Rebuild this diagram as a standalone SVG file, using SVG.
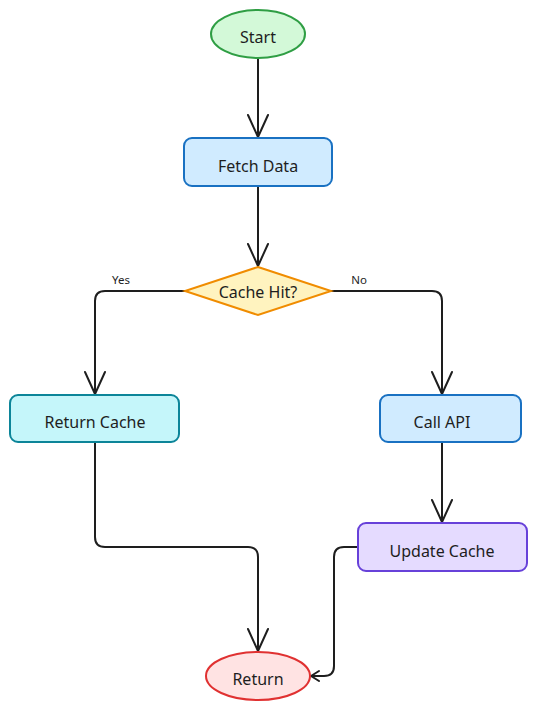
<svg xmlns="http://www.w3.org/2000/svg" width="537" height="709" viewBox="0 0 537 709">
<defs>
<style>
.lbl{font-family:"Noto Sans","Open Sans",sans-serif;font-size:16px;fill:#1e1e1e;text-anchor:middle;dominant-baseline:central}
.el{font-family:"Noto Sans","Open Sans",sans-serif;font-size:11.5px;fill:#1e1e1e;text-anchor:middle}
.n{stroke-width:2}
.c{fill:none;stroke:#1e1e1e;stroke-width:2;stroke-linecap:round;stroke-linejoin:round}
</style>
</defs>
<rect width="537" height="709" fill="#ffffff"/>
<g id="connectors">
<path class="c" d="M258,58 V137 M248,115 L258,137 L268,115"/>
<path class="c" d="M258,186 V266 M248,244 L258,266 L268,244"/>
<path class="c" d="M185,291 H105 Q95,291 95,301 V394 M85,372 L95,394 L105,372"/>
<path class="c" d="M331,291 H432 Q442,291 442,301 V394 M432,372 L442,394 L452,372"/>
<path class="c" d="M95,442 V537 Q95,547 105,547 H248 Q258,547 258,557 V651 M248,629 L258,651 L268,629"/>
<path class="c" d="M442,442 V522 M432,500 L442,522 L452,500"/>
<path class="c" d="M358,547 H344 Q334,547 334,557 V666 Q334,676 324,676 H311 M319,671 L311,676 L319,681"/>
<text class="el" x="121" y="284">Yes</text>
<text class="el" x="359" y="284">No</text>
</g>
<g id="start">
<ellipse class="n" cx="258" cy="34" rx="47" ry="24" fill="#d3f9d8" stroke="#2f9e44"/>
<text class="lbl" x="258" y="37">Start</text>
</g>
<g id="fetch">
<rect class="n" x="184" y="138" width="148" height="48" rx="8" fill="#d0ebff" stroke="#1971c2"/>
<text class="lbl" x="258" y="166">Fetch Data</text>
</g>
<g id="cache-hit">
<polygon class="n" points="258,267 331,291 258,315 185,291" fill="#fff3bf" stroke="#f08c00"/>
<text class="lbl" x="258" y="292">Cache Hit?</text>
</g>
<g id="return-cache">
<rect class="n" x="10" y="395" width="169" height="47" rx="8" fill="#c5f6fa" stroke="#0c8599"/>
<text class="lbl" x="95" y="422">Return Cache</text>
</g>
<g id="call-api">
<rect class="n" x="380" y="395" width="141" height="47" rx="8" fill="#d0ebff" stroke="#1971c2"/>
<text class="lbl" x="442" y="422">Call API</text>
</g>
<g id="update-cache">
<rect class="n" x="358" y="523" width="169" height="48" rx="8" fill="#e5dbff" stroke="#6741d9"/>
<text class="lbl" x="442" y="551">Update Cache</text>
</g>
<g id="return">
<ellipse class="n" cx="258" cy="676" rx="52" ry="24" fill="#ffe3e3" stroke="#e03131"/>
<text class="lbl" x="258" y="679">Return</text>
</g>
</svg>
